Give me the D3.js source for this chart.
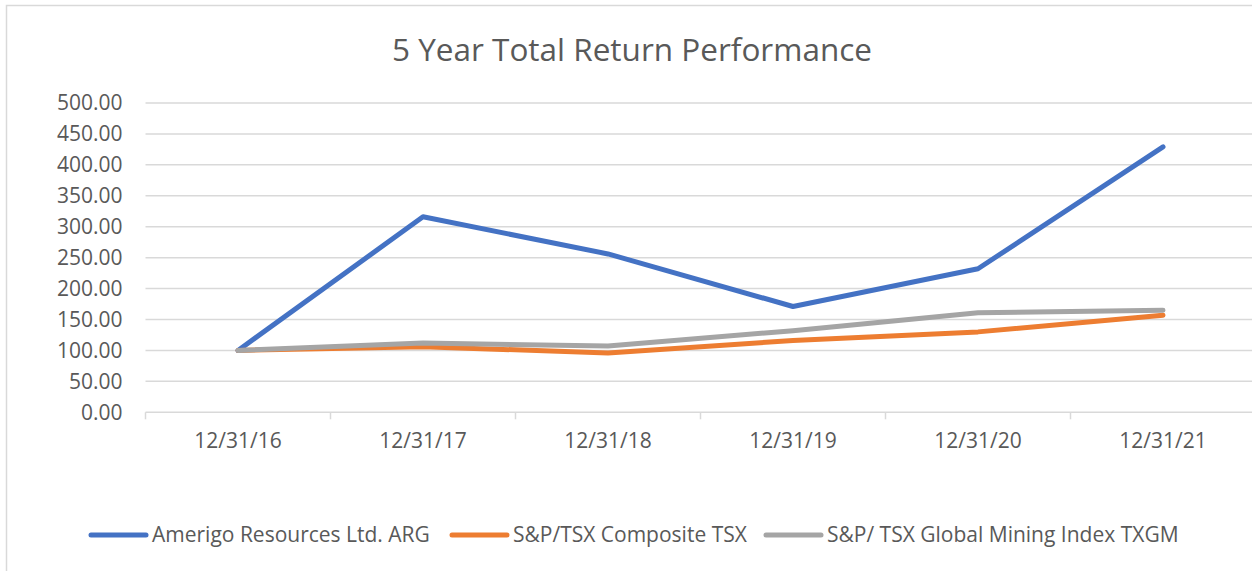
<!DOCTYPE html>
<html>
<head>
<meta charset="utf-8">
<script src="https://cdn.jsdelivr.net/npm/d3@7"></script>
<style>
  body { margin: 0; background: #fff; }
  svg text { font-family: "Open Sans", sans-serif; fill: #595959; }
</style>
</head>
<body>
<svg id="chart" width="1252" height="571"></svg>
<script>
// data
var dates = ["12/31/16", "12/31/17", "12/31/18", "12/31/19", "12/31/20", "12/31/21"];
var arg = [100, 316, 256, 171, 232, 429];
var tsx = [100, 106, 96, 116, 130, 157];
var txgm = [100, 112, 107, 132, 161, 165];
var seriesNames = ["Amerigo Resources Ltd. ARG", "S&P/TSX Composite TSX", "S&P/ TSX Global Mining Index TXGM"];
var colors = ["#4472C4", "#ED7D31", "#A5A5A5"];
var yTicks = [0, 50, 100, 150, 200, 250, 300, 350, 400, 450, 500];

var svg = d3.select("#chart");

// chart frame (right and bottom edges fall outside the picture)
svg.append("rect")
    .attr("x", 6.5).attr("y", 5.5)
    .attr("width", 1300).attr("height", 600)
    .attr("fill", "none")
    .attr("stroke", "#d9d9d9")
    .attr("stroke-width", 1.5);

var x = d3.scaleBand().domain(dates).range([145.5, 1255.5]);
var y = d3.scaleLinear().domain([0, 500]).range([412.3, 103]);

// title
svg.append("text")
    .attr("x", 632).attr("y", 61)
    .attr("text-anchor", "middle")
    .attr("font-size", "31.5px")
    .text("5 Year Total Return Performance");

// gridlines
svg.append("g")
    .selectAll("line")
    .data(yTicks.slice(1))
    .join("line")
    .attr("x1", 145.5).attr("x2", 1260)
    .attr("y1", function (d) { return y(d); })
    .attr("y2", function (d) { return y(d); })
    .attr("stroke", "#d9d9d9")
    .attr("stroke-width", 1.5);

// y axis labels
var yAxis = d3.axisLeft(y)
    .tickValues(yTicks)
    .tickFormat(d3.format(".2f"))
    .tickSize(0)
    .tickPadding(23);
var yg = svg.append("g").attr("transform", "translate(145.5,0)").call(yAxis);
yg.select(".domain").remove();
yg.selectAll("text")
    .attr("font-size", "21px")
    .style("font-family", "Open Sans, sans-serif")
    .attr("fill", "#595959");

// x axis
var xAxis = d3.axisBottom(x).tickSize(0).tickPadding(21);
var xg = svg.append("g").attr("transform", "translate(0,412.3)").call(xAxis);
xg.select(".domain").attr("stroke", "#d9d9d9").attr("stroke-width", 1.5)
    .attr("d", "M145.5,0H1260");
xg.selectAll("text")
    .attr("font-size", "21px")
    .style("font-family", "Open Sans, sans-serif")
    .attr("fill", "#595959");
// category boundary ticks
xg.append("g")
    .selectAll("line")
    .data(dates)
    .join("line")
    .attr("x1", function (d) { return x(d); })
    .attr("x2", function (d) { return x(d); })
    .attr("y1", 0).attr("y2", 7)
    .attr("stroke", "#d9d9d9")
    .attr("stroke-width", 1.5);

// lines
var line = d3.line()
    .x(function (d, i) { return x(dates[i]) + x.bandwidth() / 2; })
    .y(function (d) { return y(d); });

var allSeries = [arg, tsx, txgm];
// draw order: blue, orange, gray (gray on top)
allSeries.forEach(function (s, i) {
    svg.append("path")
        .datum(s)
        .attr("d", line)
        .attr("fill", "none")
        .attr("stroke", colors[i])
        .attr("stroke-width", 5)
        .attr("stroke-linecap", "round")
        .attr("stroke-linejoin", "round");
});

// legend
var legendX = [91, 452, 766];
var leg = svg.append("g").attr("class", "legend");
seriesNames.forEach(function (name, i) {
    leg.append("line")
        .attr("x1", legendX[i]).attr("x2", legendX[i] + 55)
        .attr("y1", 535).attr("y2", 535)
        .attr("stroke", colors[i])
        .attr("stroke-width", 5)
        .attr("stroke-linecap", "round");
    leg.append("text")
        .attr("x", legendX[i] + 61)
        .attr("y", 542)
        .attr("font-size", "21px")
        .text(name);
});
</script>
</body>
</html>
